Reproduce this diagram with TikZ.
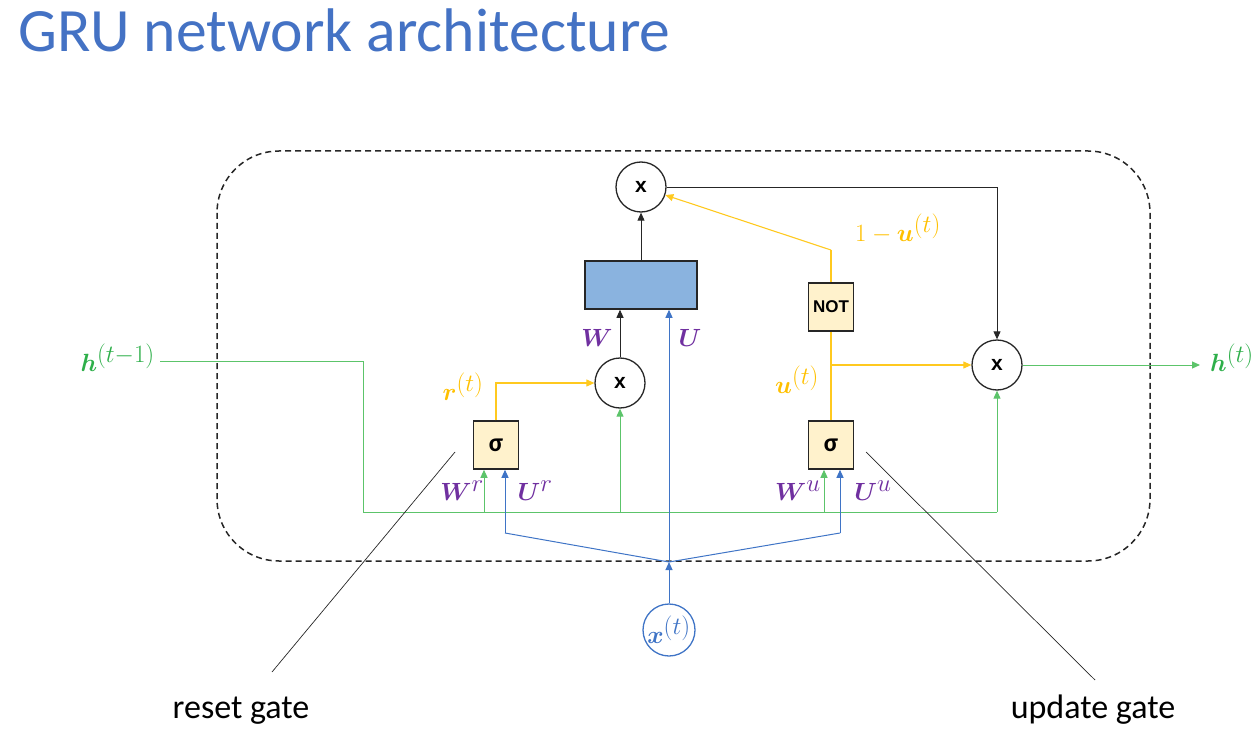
\documentclass[tikz,border=0pt]{standalone}
\usepackage{fontspec}
\usepackage{amsmath,bm}
\newfontfamily\calib{Carlito}
\newfontfamily\arialf{Liberation Sans}
\usetikzlibrary{arrows.meta}
\DeclareMathSizes{27}{27}{23}{17}
\definecolor{titleblue}{HTML}{4472C4}
\definecolor{gline}{HTML}{5CC46A}
\definecolor{glab}{HTML}{2EAF4A}
\definecolor{yline}{HTML}{FFC91F}
\definecolor{ylab}{HTML}{FFC000}
\definecolor{bline}{HTML}{3F74C6}
\definecolor{purp}{HTML}{7030A0}
\definecolor{gatefill}{HTML}{FFF2CC}
\definecolor{rectfill}{HTML}{8AB3DF}
\definecolor{dk}{HTML}{262626}
\begin{document}
\begin{tikzpicture}[x=1pt,y=-1pt,
  tip/.style={-{Triangle[length=8pt,width=7pt]}},
  mult/.style={circle,draw=dk,line width=1.3pt,fill=white,minimum size=50pt,inner sep=0pt,
    font=\arialf\bfseries\fontsize{21}{21}\selectfont},
  gatebox/.style={rectangle,draw=dk,line width=1.5pt,fill=gatefill,minimum width=45pt,minimum height=48pt,inner sep=0pt},
  gl/.style={draw=gline,line width=1pt},
  yl/.style={draw=yline,line width=1.1pt},
  bl/.style={draw=bline,line width=1pt},
  kl/.style={draw=dk,line width=0.9pt},
  mlab/.style={font=\fontsize{27}{27}\selectfont,inner sep=0pt},
  ann/.style={font=\calib\fontsize{34}{34}\selectfont,inner sep=0pt}
]
\useasboundingbox (0,0) rectangle (1260,743);
% title
\node[anchor=base west,inner sep=0pt,text=titleblue,font=\calib\fontsize{61.6}{61.6}\selectfont] (title) at (18,52) {GRU network architecture};
% cell boundary
\draw[dk,line width=1.5pt,dash pattern=on 6pt off 4pt,rounded corners=62pt] (217,151) rectangle (1150,561);
% nodes
\node[mult] (m1) at (641,187) {x};
\node[rectangle,draw=dk,line width=1.5pt,fill=rectfill,minimum width=112pt,minimum height=48pt] (rect) at (641,285) {};
\node[mult] (m2) at (620,383) {x};
\node[mult] (m3) at (997,365) {x};
\node[gatebox,font=\calib\bfseries\fontsize{26}{26}\selectfont] (sr) at (496,445) {σ};
\node[gatebox,font=\calib\bfseries\fontsize{26}{26}\selectfont] (su) at (831,445) {σ};
\node[gatebox,font=\arialf\bfseries\fontsize{17}{17}\selectfont] (nt) at (831,307) {NOT};
\node[circle,draw=bline,line width=1.3pt,fill=white,minimum size=52pt,inner sep=0pt,text=bline,font=\fontsize{27}{27}\selectfont] (xin) at (669,630) {$\bm{x}^{(t)}$};
% coordinates
\coordinate (hin) at (160,361);
\coordinate (hc1) at (363,361);
\coordinate (hc2) at (363,512);
\coordinate (hc3) at (997,512);
\coordinate (gr) at (484,512);
\coordinate (gm) at (620,512);
\coordinate (gu) at (824,512);
\coordinate (xj) at (669,562);
\coordinate (br) at (505,533);
\coordinate (bu) at (840,533);
\coordinate (uj) at (831,365);
\coordinate (nc) at (831,250);
\coordinate (hout) at (1200,365);
% black connectors
\draw[kl,tip] (m2) -- (m2 |- rect.south);
\draw[kl,tip] (rect) -- (m1);
\draw[kl,tip] (m1.east) -| (m3.north);
% green
\draw[gl] (hin) -- (hc1) -- (hc2) -- (hc3);
\draw[gl,tip] (hc3) -- (m3.south);
\draw[gl,tip] (gr) -- (gr |- sr.south);
\draw[gl,tip] (gm) -- (m2.south);
\draw[gl,tip] (gu) -- (gu |- su.south);
\draw[gl,tip] (m3.east) -- (hout);
% blue
\draw[bl,tip] (xin.north) -- (xj);
\draw[bl] (xj) -- (br);
\draw[bl,tip] (br) -- (br |- sr.south);
\draw[bl] (xj) -- (bu);
\draw[bl,tip] (bu) -- (bu |- su.south);
\draw[bl,tip] (xj) -- (xj |- rect.south);
% yellow
\draw[yl,tip] (sr.north) |- (m2.west);
\draw[yl] (su.north) -- (nt.south);
\draw[yl,tip] (uj) -- (m3.west);
\draw[yl] (nt.north) -- (nc);
\draw[yl,tip] (nc) -- (m1);
% pointers
\coordinate (rp) at (455,452);
\coordinate (up) at (866,452);
\node[ann,anchor=base] (rl) at (241,718) {reset gate};
\node[ann,anchor=base] (ul) at (1093,718) {update gate};
\draw[dk,line width=0.7pt] (rp) -- (272,672);
\draw[dk,line width=0.7pt] (up) -- (1095,680);
% labels
\node[mlab,text=glab,anchor=east] (lh0) at (155,358) {$\bm{h}^{(t-1)}$};
\node[mlab,text=glab,anchor=west] (lh1) at (1210,358) {$\bm{h}^{(t)}$};
\node[mlab,text=purp] (lW) at (597,338) {$\bm{W}$};
\node[mlab,text=purp] (lU) at (690,338) {$\bm{U}$};
\node[mlab,text=ylab] (lr) at (463,387) {$\bm{r}^{(t)}$};
\node[mlab,text=purp] (lWr) at (462,491) {$\bm{W}^{r}$};
\node[mlab,text=purp] (lUr) at (535,491) {$\bm{U}^{r}$};
\node[mlab,text=purp] (lWu) at (798,491) {$\bm{W}^{u}$};
\node[mlab,text=purp] (lUu) at (873,491) {$\bm{U}^{u}$};
\node[mlab,text=ylab] (lu) at (797,380) {$\bm{u}^{(t)}$};
\node[mlab,text=ylab] (lnu) at (898,229) {$1-\bm{u}^{(t)}$};
\end{tikzpicture}
\end{document}
